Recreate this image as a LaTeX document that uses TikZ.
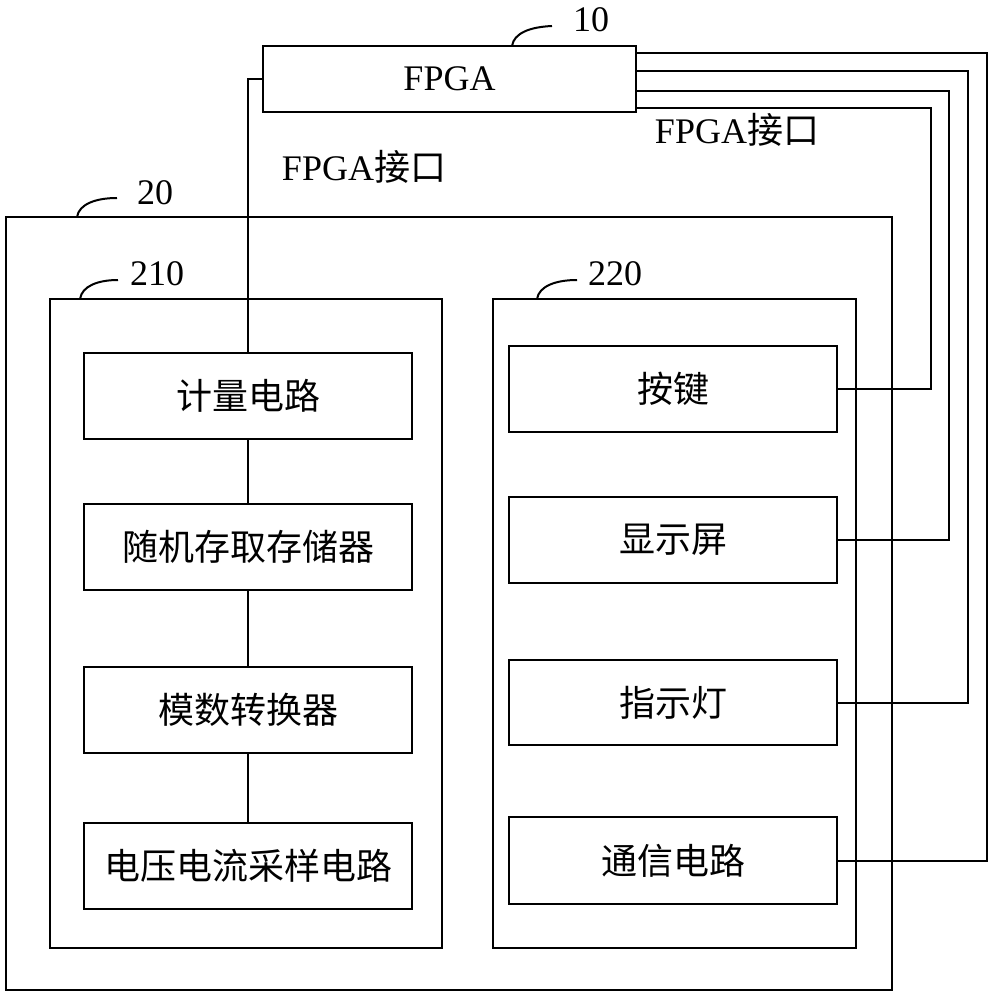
\documentclass[tikz,border=0pt]{standalone}
\usepackage{fontspec}
\setmainfont{Liberation Serif}
\newfontfamily\cjk{Noto Sans CJK SC}
\begin{document}
\begin{tikzpicture}[x=1pt,y=-1pt,line width=2pt,
  every node/.style={font=\fontsize{36}{40}\selectfont},
  box/.style={draw,rectangle,minimum width=328pt,minimum height=86pt,inner sep=0pt},
  frame/.style={draw,rectangle,inner sep=0pt},
  tag/.style={inner sep=0pt},
  lead/.style={line width=2pt}]
\useasboundingbox (0,0) rectangle (993,1000);
% containers
\node[frame,minimum width=886pt,minimum height=773pt] (dev) at (449,603.5) {};
\node[frame,minimum width=392pt,minimum height=649pt] (meas) at (246,623.5) {};
\node[frame,minimum width=363pt,minimum height=649pt] (hmi) at (674.5,623.5) {};
\node[frame,minimum width=373pt,minimum height=66pt] (fpga) at (449.5,79) {FPGA};
% left column
\node[box] (jl) at (248,396) {\cjk 计量电路};
\node[box] (ram) at (248,547) {\cjk 随机存取存储器};
\node[box] (adc) at (248,710) {\cjk 模数转换器};
\node[box] (vi) at (248,866) {\cjk 电压电流采样电路};
% right column
\node[box] (key) at (673,389) {\cjk 按键};
\node[box] (disp) at (673,540) {\cjk 显示屏};
\node[box,minimum height=85pt] (led) at (673,702.5) {\cjk 指示灯};
\node[box,minimum height=87pt] (com) at (673,860.5) {\cjk 通信电路};
% connectors
\draw (fpga.west) -| (jl.north);
\draw (jl.south) -- (ram.north);
\draw (ram.south) -- (adc.north);
\draw (adc.south) -- (vi.north);
\draw (key.east) -| (931,108) -- ([yshift=-29pt]fpga.east);
\draw (disp.east) -| (949,91) -- ([yshift=-12pt]fpga.east);
\draw (led.east) -| (968,71) -- ([yshift=8pt]fpga.east);
\draw (com.east) -| (987,53) -- ([yshift=26pt]fpga.east);
% labels
\node[tag] (lblL) at (364,167) {FPGA{\cjk 接口}};
\node[tag] (lblR) at (737,130) {FPGA{\cjk 接口}};
\node[tag] (n10) at (591,20) {10};
\node[tag] (n20) at (155,193) {20};
\node[tag] (n210) at (157,274) {210};
\node[tag] (n220) at (615,274) {220};
\draw[lead] (512,46) .. controls (514,33) and (530,27) .. (552,26);
\draw[lead] (77,217) .. controls (79,204) and (96,198) .. (117,198);
\draw[lead] (80,299) .. controls (82,286) and (98,280) .. (118,280);
\draw[lead] (537,299) .. controls (539,286) and (556,280) .. (577,280);
\end{tikzpicture}
\end{document}
